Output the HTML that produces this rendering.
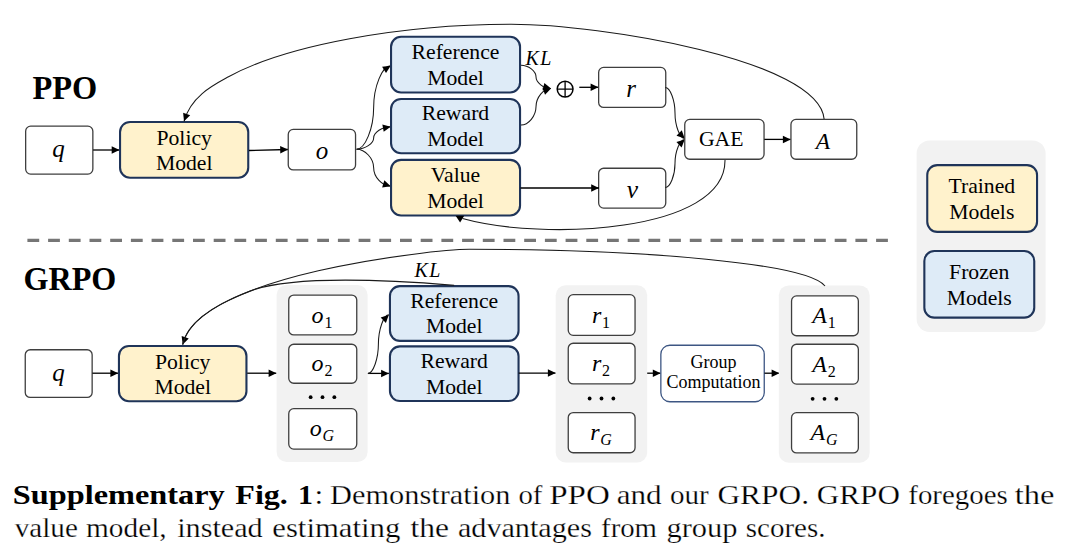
<!DOCTYPE html>
<html><head><meta charset="utf-8"><style>
html,body{margin:0;padding:0;background:#fff;}
svg{display:block;}
</style></head><body>
<svg width="1080" height="558" viewBox="0 0 1080 558">
<rect width="1080" height="558" fill="#fff"/>
<text x="32.52" y="98.6" font-family="Liberation Serif" font-size="34.5" font-weight="bold" text-anchor="start" textLength="64.78" lengthAdjust="spacingAndGlyphs">PPO</text>
<rect x="25.65" y="126.15" width="67.20" height="47.90" rx="5" fill="#fff" stroke="#3f3f3f" stroke-width="1.3"/>
<text x="58.5" y="156.5" font-family="Liberation Serif" font-size="25" font-weight="normal" text-anchor="middle" font-style="italic" >q</text>
<path d="M93.1,150 L119.5,150" fill="none" stroke="#000" stroke-width="1.3"/>
<polygon points="119.50,150.00 111.70,153.75 111.70,146.25" fill="#000"/>
<rect x="120.05" y="121.95" width="128.20" height="55.80" rx="10" fill="#fff2cc" stroke="#1f3459" stroke-width="2.1"/>
<text x="184.2" y="145" font-family="Liberation Serif" font-size="21.7" font-weight="normal" text-anchor="middle" >Policy</text>
<text x="184.2" y="170.2" font-family="Liberation Serif" font-size="21.7" font-weight="normal" text-anchor="middle" >Model</text>
<path d="M249,150.5 L288,149.5" fill="none" stroke="#000" stroke-width="1.3"/>
<polygon points="288.00,149.50 280.30,153.45 280.11,145.95" fill="#000"/>
<rect x="288.25" y="129.45" width="67.30" height="40.50" rx="5" fill="#fff" stroke="#3f3f3f" stroke-width="1.3"/>
<text x="322" y="158.7" font-family="Liberation Serif" font-size="25" font-weight="normal" text-anchor="middle" font-style="italic" >o</text>
<path d="M356.60,149.20 C365.12,149.20 373.65,128.35 373.65,107.50 C373.65,86.65 382.17,65.80 390.70,65.80" fill="none" stroke="#1a1a1a" stroke-width="1.05"/>
<polygon points="390.70,65.80 386.03,73.08 382.09,66.70" fill="#000"/>
<path d="M356.60,149.20 C365.12,149.20 373.65,143.57 373.65,137.95 C373.65,132.32 382.17,126.70 390.70,126.70" fill="none" stroke="#1a1a1a" stroke-width="1.05"/>
<polygon points="390.70,126.70 383.73,131.84 382.34,124.47" fill="#000"/>
<path d="M356.60,149.20 C365.12,149.20 373.65,158.45 373.65,167.70 C373.65,176.95 382.17,186.20 390.70,186.20" fill="none" stroke="#1a1a1a" stroke-width="1.05"/>
<polygon points="390.70,186.20 382.14,187.50 384.34,180.33" fill="#000"/>
<rect x="391.05" y="36.75" width="129.00" height="55.70" rx="10" fill="#deebf7" stroke="#1f3459" stroke-width="2.1"/>
<text x="455.5" y="58.7" font-family="Liberation Serif" font-size="21.7" font-weight="normal" text-anchor="middle" >Reference</text>
<text x="455.5" y="85" font-family="Liberation Serif" font-size="21.7" font-weight="normal" text-anchor="middle" >Model</text>
<rect x="391.05" y="98.95" width="129.00" height="54.30" rx="10" fill="#deebf7" stroke="#1f3459" stroke-width="2.1"/>
<text x="455.5" y="120" font-family="Liberation Serif" font-size="21.7" font-weight="normal" text-anchor="middle" >Reward</text>
<text x="455.5" y="146" font-family="Liberation Serif" font-size="21.7" font-weight="normal" text-anchor="middle" >Model</text>
<rect x="391.05" y="159.85" width="129.00" height="55.60" rx="10" fill="#fff2cc" stroke="#1f3459" stroke-width="2.1"/>
<text x="455.5" y="182" font-family="Liberation Serif" font-size="21.7" font-weight="normal" text-anchor="middle" >Value</text>
<text x="455.5" y="208" font-family="Liberation Serif" font-size="21.7" font-weight="normal" text-anchor="middle" >Model</text>
<text x="525.5" y="64.7" font-family="Liberation Serif" font-size="20" font-weight="normal" text-anchor="start" font-style="italic" letter-spacing="1.5">KL</text>
<path d="M521.00,65.20 C528.50,65.20 536.00,71.03 536.00,76.85 C536.00,82.67 543.50,88.50 551.00,88.50" fill="none" stroke="#1a1a1a" stroke-width="1.05"/>
<polygon points="551.00,88.50 542.52,90.22 544.36,82.95" fill="#000"/>
<path d="M521.00,125.00 C528.50,125.00 536.00,115.88 536.00,106.75 C536.00,97.62 543.50,88.50 551.00,88.50" fill="none" stroke="#1a1a1a" stroke-width="1.05"/>
<polygon points="551.00,88.50 545.05,94.78 542.38,87.78" fill="#000"/>
<circle cx="565.1" cy="89.1" r="7.9" fill="none" stroke="#000" stroke-width="1.5"/>
<path d="M557.2,89.1 L573,89.1 M565.1,81.2 L565.1,97" fill="none" stroke="#000" stroke-width="1.3"/>
<path d="M579.3,87.3 L598.4,87.3" fill="none" stroke="#000" stroke-width="1.3"/>
<polygon points="598.40,87.30 590.60,91.05 590.60,83.55" fill="#000"/>
<rect x="598.65" y="67.45" width="67.10" height="40.00" rx="5" fill="#fff" stroke="#3f3f3f" stroke-width="1.3"/>
<text x="631" y="97" font-family="Liberation Serif" font-size="25" font-weight="normal" text-anchor="middle" font-style="italic" >r</text>
<rect x="598.65" y="168.25" width="67.10" height="39.80" rx="5" fill="#fff" stroke="#3f3f3f" stroke-width="1.3"/>
<text x="632.5" y="197.5" font-family="Liberation Serif" font-size="25.5" font-weight="normal" text-anchor="middle" font-style="italic" >v</text>
<path d="M520.5,188 L599,188" fill="none" stroke="#000" stroke-width="1.3"/>
<polygon points="599.00,188.00 591.20,191.75 591.20,184.25" fill="#000"/>
<path d="M665.30,87.50 C670.15,87.50 675.00,100.25 675.00,113.00 C675.00,125.75 679.85,138.50 684.70,138.50" fill="none" stroke="#1a1a1a" stroke-width="1.05"/>
<polygon points="684.70,138.50 676.51,135.69 681.78,130.35" fill="#000"/>
<path d="M665.30,187.50 C670.15,187.50 675.00,175.50 675.00,163.50 C675.00,151.50 679.85,139.50 684.70,139.50" fill="none" stroke="#1a1a1a" stroke-width="1.05"/>
<polygon points="684.70,139.50 681.58,147.57 676.45,142.10" fill="#000"/>
<rect x="684.75" y="119.45" width="79.30" height="39.80" rx="5" fill="#fff" stroke="#3f3f3f" stroke-width="1.3"/>
<text x="721.2" y="145.6" font-family="Liberation Serif" font-size="21.7" font-weight="normal" text-anchor="middle" >GAE</text>
<path d="M764.3,139.4 L790.7,139.4" fill="none" stroke="#000" stroke-width="1.3"/>
<polygon points="790.70,139.40 782.90,143.15 782.90,135.65" fill="#000"/>
<rect x="790.95" y="119.45" width="65.80" height="39.80" rx="5" fill="#fff" stroke="#3f3f3f" stroke-width="1.3"/>
<text x="823" y="148.8" font-family="Liberation Serif" font-size="23.5" font-weight="normal" text-anchor="middle" font-style="italic" >A</text>
<path d="M824.10,119.00 C819.03,59.70 600.83,24.25 511.32,24.25 C400.05,24.25 285.72,45.40 228.52,76.79 C214.82,84.31 191.19,95.60 184.00,121.30" fill="none" stroke="#1a1a1a" stroke-width="1.05"/>
<polygon points="184.00,121.30 183.14,112.69 190.19,115.25" fill="#000"/>
<path d="M725.00,160.00 C725.90,233.15 541.94,240.81 462.50,218.60" fill="none" stroke="#1a1a1a" stroke-width="1.05"/>
<polygon points="455.6,215.8 464.2,215.8 460.1,222.6" fill="#000"/>
<rect x="916.6" y="140.4" width="128.9999999999999" height="191.6" rx="13" fill="#f2f2f2"/>
<rect x="927.25" y="165.15" width="109.80" height="66.70" rx="10" fill="#fff2cc" stroke="#1f3459" stroke-width="2.1"/>
<text x="981.8" y="193" font-family="Liberation Serif" font-size="21.7" font-weight="normal" text-anchor="middle" >Trained</text>
<text x="981.8" y="219" font-family="Liberation Serif" font-size="21.7" font-weight="normal" text-anchor="middle" >Models</text>
<rect x="924.35" y="251.05" width="109.90" height="66.60" rx="10" fill="#deebf7" stroke="#1f3459" stroke-width="2.1"/>
<text x="979.2" y="279" font-family="Liberation Serif" font-size="21.7" font-weight="normal" text-anchor="middle" >Frozen</text>
<text x="979.2" y="305" font-family="Liberation Serif" font-size="21.7" font-weight="normal" text-anchor="middle" >Models</text>
<path d="M27.4,240.4 L888,240.4" fill="none" stroke="#767676" stroke-width="3.2" stroke-dasharray="11.8 8.9"/>
<text x="23.49" y="290.3" font-family="Liberation Serif" font-size="34.5" font-weight="bold" text-anchor="start" textLength="92.90" lengthAdjust="spacingAndGlyphs">GRPO</text>
<rect x="25.25" y="349.75" width="66.90" height="47.70" rx="5" fill="#fff" stroke="#3f3f3f" stroke-width="1.3"/>
<text x="58.5" y="381" font-family="Liberation Serif" font-size="25" font-weight="normal" text-anchor="middle" font-style="italic" >q</text>
<path d="M92.4,373.2 L118.2,373.2" fill="none" stroke="#000" stroke-width="1.3"/>
<polygon points="118.20,373.20 110.40,376.95 110.40,369.45" fill="#000"/>
<rect x="118.95" y="345.95" width="127.50" height="55.30" rx="10" fill="#fff2cc" stroke="#1f3459" stroke-width="2.1"/>
<text x="182.7" y="369" font-family="Liberation Serif" font-size="21.7" font-weight="normal" text-anchor="middle" >Policy</text>
<text x="182.7" y="394" font-family="Liberation Serif" font-size="21.7" font-weight="normal" text-anchor="middle" >Model</text>
<path d="M247.2,373.2 L276.4,373.2" fill="none" stroke="#000" stroke-width="1.3"/>
<polygon points="276.40,373.20 268.60,376.95 268.60,369.45" fill="#000"/>
<rect x="276.6" y="285" width="91.0" height="177" rx="10" fill="#f2f2f2"/>
<rect x="288.75" y="295.05" width="68.00" height="39.90" rx="5" fill="#fff" stroke="#3f3f3f" stroke-width="1.3"/>
<text x="322" y="322.5" font-family="Liberation Serif" font-size="24" font-weight="normal" text-anchor="middle" ><tspan font-style="italic">o</tspan><tspan font-size="16" dy="5" dx="0.8">1</tspan></text>
<rect x="288.75" y="344.25" width="68.00" height="39.00" rx="5" fill="#fff" stroke="#3f3f3f" stroke-width="1.3"/>
<text x="322" y="371.25" font-family="Liberation Serif" font-size="24" font-weight="normal" text-anchor="middle" ><tspan font-style="italic">o</tspan><tspan font-size="16" dy="5" dx="0.8">2</tspan></text>
<rect x="288.75" y="408.65" width="68.00" height="40.40" rx="5" fill="#fff" stroke="#3f3f3f" stroke-width="1.3"/>
<text x="322" y="436.35" font-family="Liberation Serif" font-size="24" font-weight="normal" text-anchor="middle" ><tspan font-style="italic">o</tspan><tspan font-size="16" dy="5" dx="0.8" font-style="italic">G</tspan></text>
<circle cx="310.65" cy="397.2" r="1.9" fill="#000"/>
<circle cx="322.50" cy="397.2" r="1.9" fill="#000"/>
<circle cx="334.35" cy="397.2" r="1.9" fill="#000"/>
<rect x="389.95" y="286.15" width="128.60" height="54.70" rx="10" fill="#deebf7" stroke="#1f3459" stroke-width="2.1"/>
<text x="454.2" y="307.7" font-family="Liberation Serif" font-size="21.7" font-weight="normal" text-anchor="middle" >Reference</text>
<text x="454.2" y="333" font-family="Liberation Serif" font-size="21.7" font-weight="normal" text-anchor="middle" >Model</text>
<rect x="389.95" y="346.35" width="128.60" height="54.70" rx="10" fill="#deebf7" stroke="#1f3459" stroke-width="2.1"/>
<text x="454.2" y="368" font-family="Liberation Serif" font-size="21.7" font-weight="normal" text-anchor="middle" >Reward</text>
<text x="454.2" y="394" font-family="Liberation Serif" font-size="21.7" font-weight="normal" text-anchor="middle" >Model</text>
<path d="M367.9,373.4 L388.9,373.4" fill="none" stroke="#000" stroke-width="1.3"/>
<polygon points="388.90,373.40 381.10,377.15 381.10,369.65" fill="#000"/>
<path d="M367.90,373.40 C373.15,373.40 378.40,358.75 378.40,344.10 C378.40,329.45 383.65,314.80 388.90,314.80" fill="none" stroke="#1a1a1a" stroke-width="1.05"/>
<polygon points="388.90,314.80 385.87,322.91 380.68,317.50" fill="#000"/>
<path d="M518.7,373.1 L555.7,373.1" fill="none" stroke="#000" stroke-width="1.3"/>
<polygon points="555.70,373.10 547.90,376.85 547.90,369.35" fill="#000"/>
<rect x="555.7" y="285.3" width="91.5" height="177.2" rx="10" fill="#f2f2f2"/>
<rect x="568.25" y="294.65" width="66.80" height="40.70" rx="5" fill="#fff" stroke="#3f3f3f" stroke-width="1.3"/>
<text x="601" y="322.5" font-family="Liberation Serif" font-size="24" font-weight="normal" text-anchor="middle" ><tspan font-style="italic">r</tspan><tspan font-size="16" dy="5" dx="0.8">1</tspan></text>
<rect x="568.25" y="343.25" width="66.80" height="40.70" rx="5" fill="#fff" stroke="#3f3f3f" stroke-width="1.3"/>
<text x="601" y="371.1" font-family="Liberation Serif" font-size="24" font-weight="normal" text-anchor="middle" ><tspan font-style="italic">r</tspan><tspan font-size="16" dy="5" dx="0.8">2</tspan></text>
<rect x="568.25" y="412.55" width="66.80" height="40.20" rx="5" fill="#fff" stroke="#3f3f3f" stroke-width="1.3"/>
<text x="601" y="440.15" font-family="Liberation Serif" font-size="24" font-weight="normal" text-anchor="middle" ><tspan font-style="italic">r</tspan><tspan font-size="16" dy="5" dx="0.8" font-style="italic">G</tspan></text>
<circle cx="589.65" cy="398.5" r="1.9" fill="#000"/>
<circle cx="601.50" cy="398.5" r="1.9" fill="#000"/>
<circle cx="613.35" cy="398.5" r="1.9" fill="#000"/>
<path d="M647.2,373.2 L660.6,373.2" fill="none" stroke="#000" stroke-width="1.3"/>
<polygon points="660.60,373.20 652.80,376.95 652.80,369.45" fill="#000"/>
<rect x="660.85" y="345.25" width="103.40" height="56.50" rx="9" fill="#fff" stroke="#3d5683" stroke-width="1.3"/>
<text x="713.5" y="368" font-family="Liberation Serif" font-size="18" font-weight="normal" text-anchor="middle" >Group</text>
<text x="713.5" y="388" font-family="Liberation Serif" font-size="18" font-weight="normal" text-anchor="middle" >Computation</text>
<path d="M764.5,373.2 L779.4,373.2" fill="none" stroke="#000" stroke-width="1.3"/>
<polygon points="779.40,373.20 771.60,376.95 771.60,369.45" fill="#000"/>
<rect x="778.8" y="285.4" width="90.90000000000009" height="177.3" rx="10" fill="#f2f2f2"/>
<rect x="791.55" y="295.95" width="66.80" height="39.80" rx="5" fill="#fff" stroke="#3f3f3f" stroke-width="1.3"/>
<text x="824" y="323.35" font-family="Liberation Serif" font-size="24" font-weight="normal" text-anchor="middle" ><tspan font-style="italic">A</tspan><tspan font-size="16" dy="5" dx="0.8">1</tspan></text>
<rect x="791.55" y="344.25" width="66.80" height="39.80" rx="5" fill="#fff" stroke="#3f3f3f" stroke-width="1.3"/>
<text x="824" y="371.65" font-family="Liberation Serif" font-size="24" font-weight="normal" text-anchor="middle" ><tspan font-style="italic">A</tspan><tspan font-size="16" dy="5" dx="0.8">2</tspan></text>
<rect x="791.55" y="412.65" width="66.80" height="40.30" rx="5" fill="#fff" stroke="#3f3f3f" stroke-width="1.3"/>
<text x="824" y="440.29999999999995" font-family="Liberation Serif" font-size="24" font-weight="normal" text-anchor="middle" ><tspan font-style="italic">A</tspan><tspan font-size="16" dy="5" dx="0.8" font-style="italic">G</tspan></text>
<circle cx="812.65" cy="398.8" r="1.9" fill="#000"/>
<circle cx="824.50" cy="398.8" r="1.9" fill="#000"/>
<circle cx="836.35" cy="398.8" r="1.9" fill="#000"/>
<text x="414.5" y="277.4" font-family="Liberation Serif" font-size="20" font-weight="normal" text-anchor="start" font-style="italic" letter-spacing="1.5">KL</text>
<path d="M825.00,286.00 C806.77,263.37 645.50,249.31 469.40,249.31 C434.41,249.31 197.04,275.02 182.70,344.60" fill="none" stroke="#1a1a1a" stroke-width="1.05"/>
<polygon points="182.70,344.60 181.66,336.01 188.76,338.42" fill="#000"/>
<path d="M454.10,285.20 C351.53,276.99 281.31,279.01 250.02,291.08 C214.20,304.89 187.25,322.54 182.70,344.60" fill="none" stroke="#1a1a1a" stroke-width="1.05"/>
<text x="12.77" y="503.7" font-family="Liberation Serif" font-size="28" font-weight="bold" text-anchor="start" textLength="211.95" lengthAdjust="spacingAndGlyphs">Supplementary</text>
<text x="235.33" y="503.7" font-family="Liberation Serif" font-size="28" font-weight="bold" text-anchor="start" textLength="52.53" lengthAdjust="spacingAndGlyphs">Fig.</text>
<text x="298.05" y="503.7" font-family="Liberation Serif" font-size="28" font-weight="bold" text-anchor="start" textLength="14.94" lengthAdjust="spacingAndGlyphs">1</text>
<text x="314.53" y="503.7" font-family="Liberation Serif" font-size="28" font-weight="normal" text-anchor="start" textLength="8.72" lengthAdjust="spacingAndGlyphs" stroke="#fff" stroke-width="0.25">:</text>
<text x="330.13" y="503.7" font-family="Liberation Serif" font-size="28" font-weight="normal" text-anchor="start" textLength="180.32" lengthAdjust="spacingAndGlyphs" stroke="#fff" stroke-width="0.25">Demonstration</text>
<text x="518.47" y="503.7" font-family="Liberation Serif" font-size="28" font-weight="normal" text-anchor="start" textLength="23.96" lengthAdjust="spacingAndGlyphs" stroke="#fff" stroke-width="0.25">of</text>
<text x="549.26" y="503.7" font-family="Liberation Serif" font-size="28" font-weight="normal" text-anchor="start" textLength="60.62" lengthAdjust="spacingAndGlyphs" stroke="#fff" stroke-width="0.25">PPO</text>
<text x="616.69" y="503.7" font-family="Liberation Serif" font-size="28" font-weight="normal" text-anchor="start" textLength="44.98" lengthAdjust="spacingAndGlyphs" stroke="#fff" stroke-width="0.25">and</text>
<text x="669.96" y="503.7" font-family="Liberation Serif" font-size="28" font-weight="normal" text-anchor="start" textLength="38.78" lengthAdjust="spacingAndGlyphs" stroke="#fff" stroke-width="0.25">our</text>
<text x="717.47" y="503.7" font-family="Liberation Serif" font-size="28" font-weight="normal" text-anchor="start" textLength="91.54" lengthAdjust="spacingAndGlyphs" stroke="#fff" stroke-width="0.25">GRPO.</text>
<text x="816.88" y="503.7" font-family="Liberation Serif" font-size="28" font-weight="normal" text-anchor="start" textLength="83.03" lengthAdjust="spacingAndGlyphs" stroke="#fff" stroke-width="0.25">GRPO</text>
<text x="908.27" y="503.7" font-family="Liberation Serif" font-size="28" font-weight="normal" text-anchor="start" textLength="99.46" lengthAdjust="spacingAndGlyphs" stroke="#fff" stroke-width="0.25">foregoes</text>
<text x="1014.65" y="503.7" font-family="Liberation Serif" font-size="28" font-weight="normal" text-anchor="start" textLength="39.70" lengthAdjust="spacingAndGlyphs" stroke="#fff" stroke-width="0.25">the</text>
<text x="14.80" y="536.9" font-family="Liberation Serif" font-size="28" font-weight="normal" text-anchor="start" textLength="63.07" lengthAdjust="spacingAndGlyphs" stroke="#fff" stroke-width="0.25">value</text>
<text x="86.07" y="536.9" font-family="Liberation Serif" font-size="28" font-weight="normal" text-anchor="start" textLength="80.60" lengthAdjust="spacingAndGlyphs" stroke="#fff" stroke-width="0.25">model,</text>
<text x="177.15" y="536.9" font-family="Liberation Serif" font-size="28" font-weight="normal" text-anchor="start" textLength="85.58" lengthAdjust="spacingAndGlyphs" stroke="#fff" stroke-width="0.25">instead</text>
<text x="272.29" y="536.9" font-family="Liberation Serif" font-size="28" font-weight="normal" text-anchor="start" textLength="128.00" lengthAdjust="spacingAndGlyphs" stroke="#fff" stroke-width="0.25">estimating</text>
<text x="410.56" y="536.9" font-family="Liberation Serif" font-size="28" font-weight="normal" text-anchor="start" textLength="38.46" lengthAdjust="spacingAndGlyphs" stroke="#fff" stroke-width="0.25">the</text>
<text x="457.92" y="536.9" font-family="Liberation Serif" font-size="28" font-weight="normal" text-anchor="start" textLength="134.04" lengthAdjust="spacingAndGlyphs" stroke="#fff" stroke-width="0.25">advantages</text>
<text x="601.07" y="536.9" font-family="Liberation Serif" font-size="28" font-weight="normal" text-anchor="start" textLength="55.96" lengthAdjust="spacingAndGlyphs" stroke="#fff" stroke-width="0.25">from</text>
<text x="666.50" y="536.9" font-family="Liberation Serif" font-size="28" font-weight="normal" text-anchor="start" textLength="71.03" lengthAdjust="spacingAndGlyphs" stroke="#fff" stroke-width="0.25">group</text>
<text x="745.76" y="536.9" font-family="Liberation Serif" font-size="28" font-weight="normal" text-anchor="start" textLength="79.78" lengthAdjust="spacingAndGlyphs" stroke="#fff" stroke-width="0.25">scores.</text>
</svg></body></html>
